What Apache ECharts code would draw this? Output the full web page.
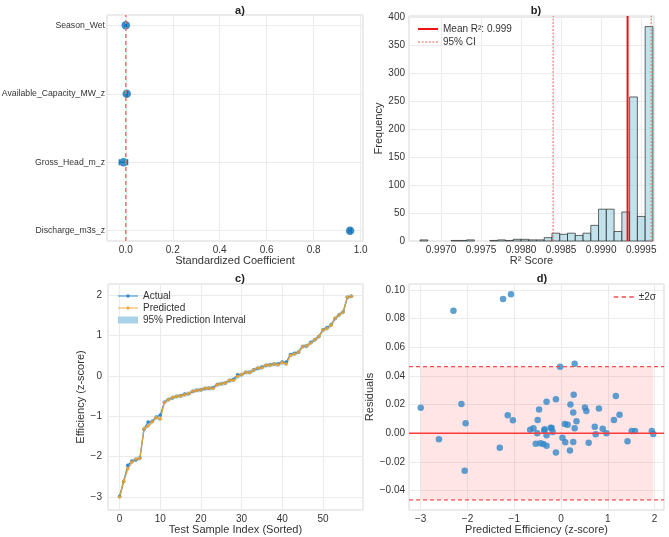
<!DOCTYPE html>
<html>
<head>
<meta charset="utf-8">
<title>Model diagnostics</title>
<script src="https://cdn.jsdelivr.net/npm/echarts@6/dist/echarts.min.js"></script>
<style>
  html, body { margin: 0; padding: 0; background: #fff; }
  #chart { width: 669px; height: 537px; }
</style>
</head>
<body>
<div id="chart"></div>
<script>
// a) 标准化系数 (y 位置 0 在底部)
const coefNames = ['Discharge_m3s_z', 'Gross_Head_m_z', 'Available_Capacity_MW_z', 'Season_Wet'];
const coefValues = [0.955, -0.010, 0.004, 0.000];
const coefLow = [0.950, -0.028, 0.001, -0.003];
const coefHigh = [0.960, 0.008, 0.007, 0.003];

// b) bootstrap R² 直方图
const binStart = 0.9967375;
const binWidth = 0.00009696;
const binCounts = [2, 0, 0, 0, 1, 1, 2, 0, 0, 1, 2, 1, 3, 3, 2, 2, 6, 14, 12, 14, 10, 14, 28, 57, 57, 17, 52, 258, 44, 384];
const meanR2 = 0.99933;
const ciBounds = [0.9984, 0.999625];

// c) 测试样本（按实际值排序）
const actual = [-2.98, -2.614, -2.214, -2.110, -2.086, -2.033, -1.320, -1.146, -1.127, -1.021,
  -0.973, -0.657, -0.587, -0.547, -0.510, -0.491, -0.453, -0.447, -0.388, -0.358,
  -0.347, -0.319, -0.311, -0.288, -0.216, -0.196, -0.179, -0.123, -0.086, 0.027,
  0.027, 0.084, 0.087, 0.146, 0.178, 0.220, 0.254, 0.275, 0.294, 0.297,
  0.338, 0.339, 0.528, 0.556, 0.583, 0.725, 0.739, 0.827, 0.893, 0.970,
  1.139, 1.196, 1.263, 1.414, 1.512, 1.582, 1.942, 1.970];
const predicted = [-3.00, -2.61, -2.30, -2.13, -2.06, -2.04, -1.31, -1.24, -1.14, -1.03,
  -1.07, -0.66, -0.59, -0.54, -0.51, -0.50, -0.47, -0.44, -0.38, -0.36,
  -0.35, -0.31, -0.31, -0.31, -0.22, -0.20, -0.18, -0.11, -0.11, -0.02,
  0.03, 0.09, 0.08, 0.14, 0.19, 0.20, 0.26, 0.26, 0.29, 0.27,
  0.33, 0.29, 0.51, 0.54, 0.59, 0.72, 0.74, 0.81, 0.89, 0.97,
  1.13, 1.17, 1.25, 1.42, 1.51, 1.58, 1.94, 1.97];
const piHalfWidth = 0.046;

// d) 残差
const residuals = [0.0179, -0.0042, 0.0856, 0.0204, -0.0261, 0.0070, -0.0100, 0.0937, 0.0126, 0.0091,
  0.0970, 0.0025, 0.0035, -0.0073, 0.0000, 0.0093, 0.0167, -0.0070, -0.0075, 0.0019,
  0.0028, -0.0086, -0.0014, 0.0220, 0.0039, 0.0037, 0.0009, -0.0133, 0.0237, 0.0465,
  -0.0030, -0.0063, 0.0065, 0.0060, -0.0119, 0.0202, -0.0061, 0.0146, 0.0035, 0.0270,
  0.0084, 0.0486, 0.0181, 0.0156, -0.0066, 0.0046, -0.0007, 0.0174, 0.0032, 0.0000,
  0.0093, 0.0260, 0.0130, -0.0056, 0.0016, 0.0016, 0.0016, -0.0005];
const twoSigma = 0.0465;

const FONT = "'Liberation Sans', Arial, sans-serif";
const TXT = '#333';
const GRID_LINE = '#ebebeb';
const MINUS = '\u2212';

// 图例小图标（实线 / 虚线 / 带点的线）
const ICON_SOLID = 'path://M0,0h20v2h-20z';
const ICON_DOT = 'path://M0,0h2v1h-2z M3.6,0h2v1h-2z M7.2,0h2v1h-2z M10.8,0h2v1h-2z M14.4,0h2v1h-2z M18,0h2v1h-2z';
const ICON_DASH = 'path://M0,0h4.5v1.5h-4.5z M7.75,0h4.5v1.5h-4.5z M15.5,0h4.5v1.5h-4.5z';
const ICON_MARK = 'path://M0,4.4h20v1.2h-20z M8.6,3.6h2.8v2.8h-2.8z';

// 只给“整齐”的刻度显示标签，边界刻度留空
const stepLabel = (step, digits) => (v) => {
  const k = v / step;
  if (Math.abs(k - Math.round(k)) > 1e-6) return '';
  const s = (Math.round(k) * step).toFixed(digits);
  return s.startsWith('-') ? MINUS + s.slice(1) : s;
};

const baseAxis = (extra) => Object.assign({
  type: 'value',
  axisLine: { show: false },
  axisTick: { show: false },
  splitLine: { show: true, lineStyle: { color: GRID_LINE, width: 1 } },
  axisLabel: { color: TXT, fontSize: 10, fontFamily: FONT, margin: 4 },
  nameTextStyle: { color: TXT, fontSize: 11, fontFamily: FONT },
  nameLocation: 'middle'
}, extra);

const gridBox = (left, top, width, height) => ({
  left, top, width, height,
  show: true, borderColor: '#d6d6d6', borderWidth: 1, backgroundColor: 'transparent',
  containLabel: false, outerBoundsMode: 'none'
});

const titleAt = (text, left, top) => ({
  text, left, top, textAlign: 'center',
  textStyle: { fontSize: 11, fontWeight: 'bold', color: '#222', fontFamily: FONT }
});

const chart = echarts.init(document.getElementById('chart'), null, { renderer: 'canvas' });

const histData = binCounts.map((c, i) => [binStart + i * binWidth, binStart + (i + 1) * binWidth, c]);
const bandData = predicted.map((p, i) => [i, p - piHalfWidth, p + piHalfWidth]);
const dxMin = -3.25, dxMax = 2.2;

const option = {
  animation: false,
  backgroundColor: '#fff',
  textStyle: { fontFamily: FONT },
  title: [titleAt('a)', 235, 0), titleAt('b)', 531, 0), titleAt('c)', 235, 268), titleAt('d)', 537, 268)],
  grid: [
    gridBox(107, 15, 256, 226),
    gridBox(409, 16, 245, 225),
    gridBox(108, 284, 255, 226),
    gridBox(409, 284, 255, 226)
  ],
  xAxis: [
    baseAxis({ gridIndex: 0, min: -0.08, max: 1.01, minInterval: 0.2, maxInterval: 0.2,
      name: 'Standardized Coefficient', nameGap: 13,
      axisLabel: { color: TXT, fontSize: 10, fontFamily: FONT, margin: 4, formatter: stepLabel(0.2, 1) } }),
    baseAxis({ gridIndex: 1, min: 0.9966, max: 0.99966, minInterval: 0.0005, maxInterval: 0.0005,
      name: 'R² Score', nameGap: 13,
      axisLabel: { color: TXT, fontSize: 10, fontFamily: FONT, margin: 4, formatter: stepLabel(0.0005, 4) } }),
    baseAxis({ gridIndex: 2, min: -2.85, max: 59.85, minInterval: 10, maxInterval: 10,
      name: 'Test Sample Index (Sorted)', nameGap: 13,
      axisLabel: { color: TXT, fontSize: 10, fontFamily: FONT, margin: 4, formatter: stepLabel(10, 0) } }),
    baseAxis({ gridIndex: 3, min: dxMin, max: dxMax, minInterval: 1, maxInterval: 1,
      name: 'Predicted Efficiency (z-score)', nameGap: 13,
      axisLabel: { color: TXT, fontSize: 10, fontFamily: FONT, margin: 4, formatter: stepLabel(1, 0) } })
  ],
  yAxis: [
    baseAxis({ gridIndex: 0, min: -0.15, max: 3.15, minInterval: 1, maxInterval: 1,
      axisLabel: { color: TXT, fontSize: 8.7, fontFamily: FONT, margin: 2,
        formatter: (v) => Math.abs(v - Math.round(v)) < 1e-6 ? (coefNames[Math.round(v)] || '') : '' } }),
    baseAxis({ gridIndex: 1, min: 0, max: 403, interval: 50,
      name: 'Frequency', nameGap: 14,
      axisLabel: { color: TXT, fontSize: 10, fontFamily: FONT, margin: 4, formatter: stepLabel(50, 0) } }),
    baseAxis({ gridIndex: 2, min: -3.32, max: 2.27, minInterval: 1, maxInterval: 1,
      name: 'Efficiency (z-score)', nameGap: 8,
      axisLabel: { color: TXT, fontSize: 10, fontFamily: FONT, margin: 6, formatter: stepLabel(1, 0) } }),
    baseAxis({ gridIndex: 3, min: -0.0535, max: 0.1042, minInterval: 0.02, maxInterval: 0.02,
      name: 'Residuals', nameGap: 19,
      axisLabel: { color: TXT, fontSize: 10, fontFamily: FONT, margin: 4, formatter: stepLabel(0.02, 2) } })
  ],
  legend: [
    {
      left: 413, top: 19, orient: 'vertical', itemGap: 3, itemWidth: 20, itemHeight: 10,
      textStyle: { color: TXT, fontSize: 10, fontFamily: FONT },
      data: [{ name: 'Mean R²: 0.999', icon: ICON_SOLID }, { name: '95% CI', icon: ICON_DOT }]
    },
    {
      left: 113, top: 286, orient: 'vertical', itemGap: 2, itemWidth: 20, itemHeight: 10,
      textStyle: { color: TXT, fontSize: 10, fontFamily: FONT },
      data: [
        { name: 'Actual', icon: ICON_MARK },
        { name: 'Predicted', icon: ICON_MARK },
        { name: '95% Prediction Interval', icon: 'path://M0,0h20v7h-20z', itemStyle: { color: '#a9d1ea' } }
      ]
    },
    {
      right: 8, top: 287, orient: 'vertical', itemWidth: 20, itemHeight: 10,
      textStyle: { color: TXT, fontSize: 10, fontFamily: FONT },
      data: [{ name: '±2σ', icon: ICON_DASH }]
    }
  ],
  series: [
    // ---- a) ----
    {
      type: 'line', xAxisIndex: 0, yAxisIndex: 0, silent: true, symbol: 'none',
      lineStyle: { color: '#ff6b6b', type: [4, 3], width: 1.5 },
      data: [[0, -0.15], [0, 3.15]]
    },
    {
      type: 'custom', xAxisIndex: 0, yAxisIndex: 0, silent: true,
      data: coefLow.map((lo, i) => [lo, coefHigh[i], i]),
      encode: { x: [0, 1], y: 2 },
      renderItem: (params, api) => {
        const a = api.coord([api.value(0), api.value(2)]);
        const b = api.coord([api.value(1), api.value(2)]);
        const st = { stroke: '#1170b8', lineWidth: 1.2 };
        return {
          type: 'group', children: [
            { type: 'line', shape: { x1: a[0], y1: a[1], x2: b[0], y2: b[1] }, style: st },
            { type: 'line', shape: { x1: a[0], y1: a[1] - 3, x2: a[0], y2: a[1] + 3 }, style: st },
            { type: 'line', shape: { x1: b[0], y1: b[1] - 3, x2: b[0], y2: b[1] + 3 }, style: st }
          ]
        };
      }
    },
    {
      type: 'scatter', xAxisIndex: 0, yAxisIndex: 0, symbolSize: 8.5, silent: true,
      itemStyle: { color: '#1170b8' },
      data: coefValues.map((v, i) => [v, i])
    },

    // ---- b) ----
    {
      type: 'custom', xAxisIndex: 1, yAxisIndex: 1, silent: true,
      data: histData,
      encode: { x: [0, 1], y: 2 },
      renderItem: (params, api) => {
        const h = api.value(2);
        if (!h) return null;
        const p0 = api.coord([api.value(0), h]);
        const p1 = api.coord([api.value(1), 0]);
        return {
          type: 'rect',
          shape: { x: p0[0], y: p0[1], width: p1[0] - p0[0], height: p1[1] - p0[1] },
          style: { fill: 'rgba(173,216,230,0.75)', stroke: 'rgba(40,40,40,0.7)', lineWidth: 1 }
        };
      }
    },
    {
      name: 'Mean R²: 0.999', type: 'line', xAxisIndex: 1, yAxisIndex: 1, silent: true,
      symbol: 'none', lineStyle: { color: '#ee1111', width: 2 }, itemStyle: { color: '#ee1111' },
      data: [[meanR2, 0], [meanR2, 403]]
    },
    ...ciBounds.map((v) => ({
      name: '95% CI', type: 'line', xAxisIndex: 1, yAxisIndex: 1, silent: true,
      symbol: 'none', lineStyle: { color: '#ff5a5a', width: 1, type: [2, 1.5] }, itemStyle: { color: '#ff5a5a' },
      data: [[v, 0], [v, 403]]
    })),

    // ---- c) ----
    {
      name: '95% Prediction Interval', type: 'custom', xAxisIndex: 2, yAxisIndex: 2, silent: true,
      data: bandData,
      encode: { x: 0, y: [1, 2] },
      itemStyle: { color: '#a9d1ea' },
      renderItem: (params, api) => {
        const i = params.dataIndexInside;
        if (i >= params.dataInsideLength - 1) return null;
        const pts = [
          api.coord([api.value(0, i), api.value(1, i)]),
          api.coord([api.value(0, i + 1), api.value(1, i + 1)]),
          api.coord([api.value(0, i + 1), api.value(2, i + 1)]),
          api.coord([api.value(0, i), api.value(2, i)])
        ];
        return { type: 'polygon', shape: { points: pts }, style: { fill: '#b5d8ee', stroke: '#b5d8ee', lineWidth: 0.5 } };
      }
    },
    {
      name: 'Actual', type: 'line', xAxisIndex: 2, yAxisIndex: 2, silent: true,
      data: actual.map((v, i) => [i, v]),
      symbol: 'circle', symbolSize: 3.5, showSymbol: true,
      lineStyle: { color: '#2f89cf', width: 1.2 }, itemStyle: { color: '#2f89cf' }
    },
    {
      name: 'Predicted', type: 'line', xAxisIndex: 2, yAxisIndex: 2, silent: true,
      data: predicted.map((v, i) => [i, v]),
      symbol: 'circle', symbolSize: 3.5, showSymbol: true,
      lineStyle: { color: '#f0a22e', width: 1.4, opacity: 0.85 }, itemStyle: { color: '#f0a22e', opacity: 0.9 }
    },

    // ---- d) ----
    {
      type: 'line', xAxisIndex: 3, yAxisIndex: 3, silent: true, symbol: 'none',
      lineStyle: { color: '#ff3b3b', width: 1.5 },
      data: [[dxMin, 0], [dxMax, 0]],
      markArea: {
        silent: true,
        itemStyle: { color: 'rgba(255,110,110,0.18)' },
        data: [[
          { xAxis: Math.min(...predicted), yAxis: -twoSigma },
          { xAxis: Math.max(...predicted), yAxis: twoSigma }
        ]]
      }
    },
    ...[twoSigma, -twoSigma].map((v) => ({
      name: '±2σ', type: 'line', xAxisIndex: 3, yAxisIndex: 3, silent: true,
      symbol: 'none', lineStyle: { color: '#ff4d4d', width: 1.2, type: [4, 3] }, itemStyle: { color: '#ff4d4d' },
      data: [[dxMin, v], [dxMax, v]]
    })),
    {
      type: 'scatter', xAxisIndex: 3, yAxisIndex: 3, symbolSize: 6.5, silent: true,
      itemStyle: { color: '#2f86c8', opacity: 0.78 },
      data: predicted.map((p, i) => [p, residuals[i]])
    }
  ]
};

chart.setOption(option);
</script>
</body>
</html>
